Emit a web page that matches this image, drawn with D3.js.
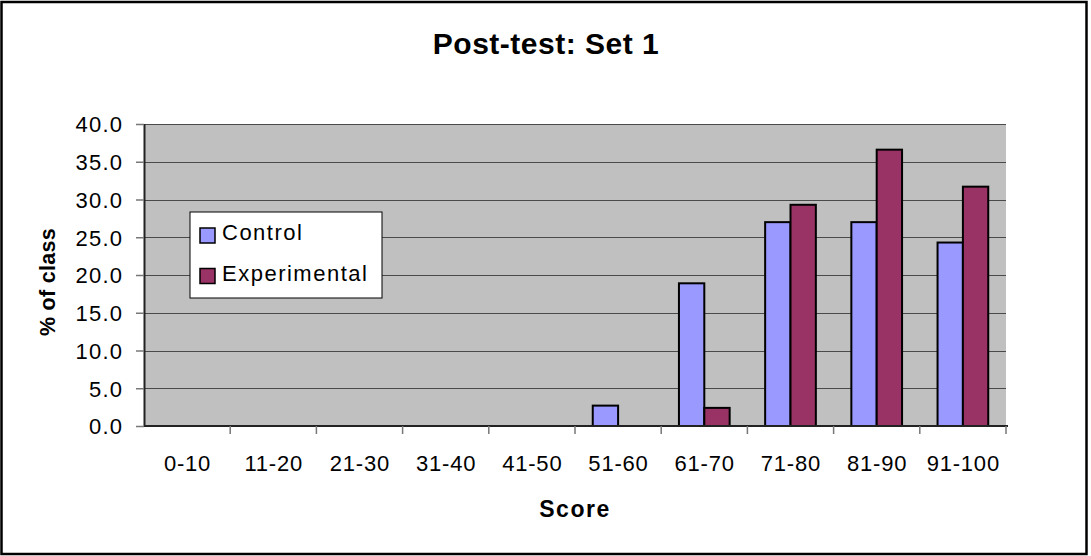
<!DOCTYPE html>
<html><head><meta charset="utf-8">
<script src="https://cdn.jsdelivr.net/npm/d3@7"></script>
<style>html,body{margin:0;padding:0;background:#fff;} svg{display:block;font-family:Arial,"Liberation Sans",sans-serif;}</style>
</head><body>
<script>
const categories = ["0-10","11-20","21-30","31-40","41-50","51-60","61-70","71-80","81-90","91-100"];
const seriesNames = ["Control","Experimental"];
const control = [0,0,0,0,0,2.7,18.9,27.0,27.0,24.3];
const experimental = [0,0,0,0,0,0,2.4,29.3,36.6,31.7];
const yTicks = [0,5,10,15,20,25,30,35,40];
const colors = ["#9999ff","#993366"];

const W=1091,H=556;
const svg=d3.select("body").append("svg").attr("width",W).attr("height",H);
svg.append("rect").attr("x",1.5).attr("y",2).attr("width",1085).attr("height",552).attr("fill","#fff").attr("stroke","#000").attr("stroke-width",2.5);

const m={l:144,r:1006,t:124,b:426};
const x=d3.scaleBand().domain(categories).range([m.l,m.r]).paddingInner(0).paddingOuter(0);
const y=d3.scaleLinear().domain([0,40]).range([m.b,m.t]);
const bw=x.bandwidth()/3.4;
const xs=d3.scaleBand().domain(seriesNames).range([0,bw*2]);

svg.append("rect").attr("x",m.l).attr("y",m.t).attr("width",m.r-m.l).attr("height",m.b-m.t).attr("fill","#c0c0c0");
// gridlines
svg.append("g").selectAll("line").data(yTicks.filter(d=>d>0)).join("line")
 .attr("x1",m.l).attr("x2",m.r).attr("y1",d=>Math.round(y(d))+0.5).attr("y2",d=>Math.round(y(d))+0.5)
 .attr("stroke","#4a4a4a").attr("stroke-width",1);

// bars
const data=categories.map((c,i)=>({c,vals:[control[i],experimental[i]]}));
const g=svg.append("g");
data.forEach(d=>{
  const x0=x(d.c)+(x.bandwidth()-bw*2)/2;
  d.vals.forEach((v,j)=>{
    if(v<=0) return;
    g.append("rect").attr("x",x0+xs(seriesNames[j])).attr("y",y(v)).attr("width",bw).attr("height",y(0)-y(v))
     .attr("fill",colors[j]).attr("stroke","#000").attr("stroke-width",2);
  });
});

// y axis
const ya=svg.append("g").attr("transform",`translate(${m.l},0)`)
 .call(d3.axisLeft(y).tickValues(yTicks).tickFormat(d3.format(".1f")).tickSize(8).tickPadding(14));
ya.select(".domain").attr("stroke","#222").attr("stroke-width",2).attr("d",`M0.5,${m.t}V${m.b}`);
ya.selectAll(".tick line").attr("stroke","#777").attr("stroke-width",1.5);
ya.selectAll("text").attr("font-size",22).attr("fill","#000").attr("letter-spacing","1.2px")
 .attr("font-family","Arial, Liberation Sans, sans-serif").attr("dx",1.2).attr("dy","0.36em");

// x axis
const xa=svg.append("g").attr("transform",`translate(0,${m.b})`);
xa.append("line").attr("x1",m.l).attr("x2",m.r+2).attr("y1",0).attr("y2",0).attr("stroke","#222").attr("stroke-width",2);
xa.selectAll("line.tk").data(categories.slice(1).concat(["end"])).join("line").attr("class","tk")
 .attr("x1",(d,i)=>m.l+(i+1)*x.bandwidth()).attr("x2",(d,i)=>m.l+(i+1)*x.bandwidth())
 .attr("y1",0).attr("y2",8).attr("stroke","#777").attr("stroke-width",1.5);
xa.selectAll("text").data(categories).join("text")
 .attr("x",d=>x(d)+x.bandwidth()/2+0.4).attr("y",45).attr("text-anchor","middle").attr("font-size",22)
 .attr("letter-spacing","0.8px").text(d=>d);

// titles
svg.append("text").attr("x",546).attr("y",54).attr("text-anchor","middle").attr("font-size",30).attr("font-weight","bold").attr("letter-spacing","0.5px").text("Post-test: Set 1");
svg.append("text").attr("x",575).attr("y",517).attr("text-anchor","middle").attr("font-size",23).attr("font-weight","bold").attr("letter-spacing","1.5px").text("Score");
svg.append("text").attr("transform",`translate(55,282) rotate(-90)`).attr("text-anchor","middle").attr("font-size",21.5).attr("font-weight","bold").attr("letter-spacing","0.3px").text("% of class");

// legend
const lg=svg.append("g");
lg.append("rect").attr("x",190).attr("y",212).attr("width",192).attr("height",86).attr("fill","#fff").attr("stroke","#000").attr("stroke-width",1);
seriesNames.forEach((s,i)=>{
  const yy=228+i*40.5;
  lg.append("rect").attr("x",200).attr("y",yy).attr("width",15).attr("height",15).attr("fill",colors[i]).attr("stroke","#000").attr("stroke-width",1.5);
  lg.append("text").attr("x",222).attr("y",yy+12).attr("font-size",22).attr("letter-spacing","1.5px").text(s);
});
</script>
</body></html>
